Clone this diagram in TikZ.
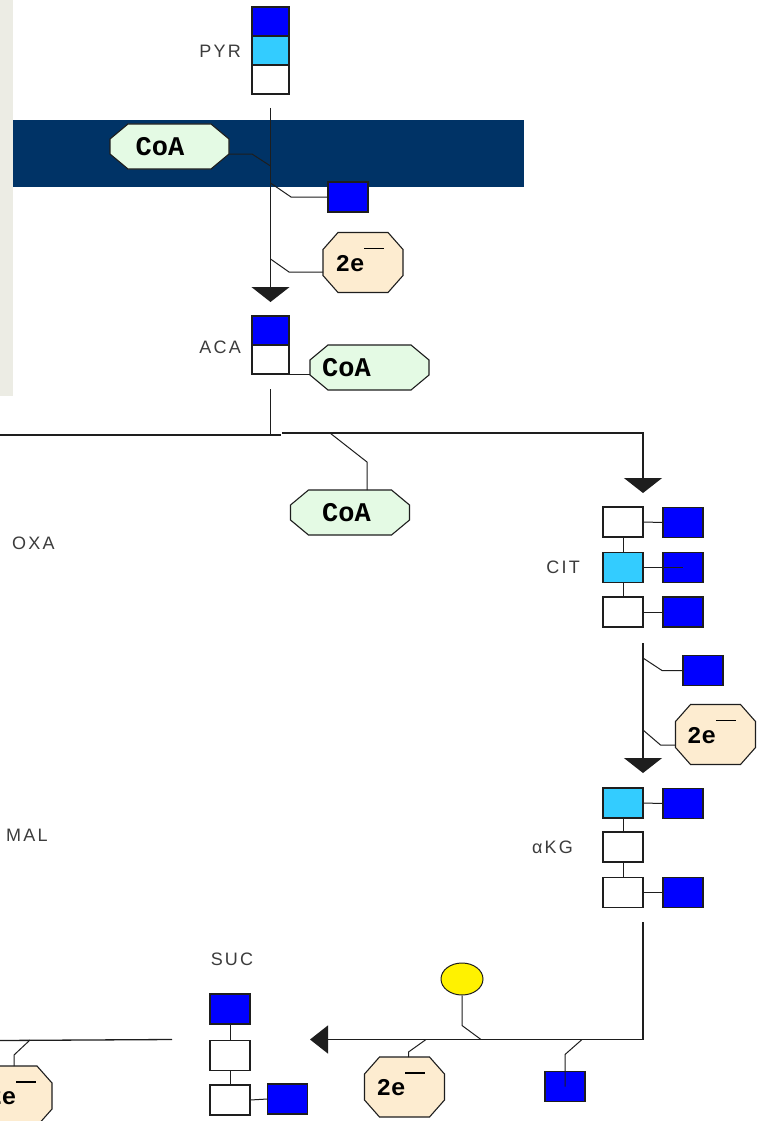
\documentclass[tikz,border=0pt]{standalone}
\usepackage{fontspec}
\usetikzlibrary{arrows.meta,shapes.geometric}
\newfontfamily\labfont[LetterSpace=12]{Liberation Sans}
\newfontfamily\tagfont{Liberation Mono}
\newcommand\coafont{\tagfont\bfseries\fontsize{27}{27}\selectfont}
\definecolor{navy}{RGB}{0,51,102}
\definecolor{panel}{RGB}{236,236,228}
\definecolor{carbon}{RGB}{0,0,255}
\definecolor{carbonlt}{RGB}{51,204,255}
\definecolor{coafill}{RGB}{228,250,228}
\definecolor{elecfill}{RGB}{253,236,208}
\definecolor{ink}{RGB}{30,30,30}
\definecolor{labink}{RGB}{60,60,60}
\tikzset{
  wire/.style={draw=ink, line width=1.3pt},
  tap/.style={draw=ink, line width=1pt},
  cbox/.style={draw=ink, line width=1.2pt, inner sep=0, outer sep=0,
    minimum width=40pt, minimum height=30pt},
  nbox/.style={cbox, minimum width=37pt, minimum height=29pt},
  lab/.style={font=\labfont\fontsize{18}{18}\selectfont, text=labink, inner sep=0},
  octline/.style={draw=ink, line width=1.1pt},
  flowtip/.style={-{Triangle[width=38pt,length=15pt]}}
}
% octagonal tag: name, x, y, half width, half height, fill, text shift, text
\newcommand\octnode[8]{%
  \filldraw[octline, fill=#6, shift={(#2,#3)}]
    (-#4+\octcx,-#5) -- (#4-\octcx,-#5) -- (#4,-#5+\octcy) -- (#4,#5-\octcy)
    -- (#4-\octcx,#5) -- (-#4+\octcx,#5) -- (-#4,#5-\octcy) -- (-#4,-#5+\octcy) -- cycle;
  \node[inner sep=0, outer sep=0, minimum width=2*#4, minimum height=2*#5] (#1) at (#2,#3) {};
  \node[inner sep=0] (#1-t) at ([#7]#1.center) {#8};}
\newcommand\coanode[4]{\def\octcx{18}\def\octcy{15}%
  \octnode{#1}{#2}{#3}{59.5}{22.5}{coafill}{xshift=#4}{\coafont CoA}}
\newcommand\elecnode[4]{\def\octcx{15}\def\octcy{17}%
  \octnode{#1}{#2}{#3}{40}{30}{elecfill}{xshift=#4,yshift=3pt}%
  {\coafont\fontsize{24}{24}\selectfont 2e\raisebox{22pt}{\rule{20pt}{1.6pt}}}}

\begin{document}
\begin{tikzpicture}[x=1pt,y=-1pt]
\clip (0,0) rectangle (765,1121);
\fill[white] (0,0) rectangle (765,1121);
\fill[panel] (0,0) rectangle (13,396);
\fill[navy] (13,120) rectangle (524,187);

% pyruvate and acetyl-CoA
\node[nbox, fill=carbon]   (pyrA) at (270.5,21.5) {};
\node[nbox, fill=carbonlt] (pyrB) at (270.5,50.5) {};
\node[nbox, fill=white]    (pyrC) at (270.5,79.5) {};
\node[lab, anchor=east] (pyrL) at (241,51) {PYR};

\coanode{coaA}{169.5}{146.5}{-9.5pt}
\node[cbox, fill=carbon] (co2A) at (348,197) {};
\elecnode{eA}{363}{262.5}{-3pt}

\node[nbox, fill=carbon] (acaA) at (270.5,330.5) {};
\node[nbox, fill=white]  (acaB) at (270.5,359.5) {};
\node[lab, anchor=east] (acaL) at (241,347) {ACA};
\coanode{coaB}{369.5}{367.5}{-23pt}
\coanode{coaC}{350}{512.5}{-3.5pt}

\coordinate (pyrOut) at (270.5,108);
\coordinate (jCoa) at (270.5,166);
\coordinate (jCO2a) at (270.5,183);
\coordinate (jEa) at (270.5,259);
\draw[wire, flowtip] (pyrOut) -- ([yshift=14pt]acaA.north);
\draw[tap] ([yshift=-7.5pt]coaA.east) -- ++(23,0) -- (jCoa);
\draw[tap] (jCO2a) -- ([xshift=-37pt]co2A.west) -- (co2A.west);
\draw[tap] (jEa) -- ([xshift=-34pt,yshift=-9.5pt]eA.west) -- ([yshift=-9.5pt]eA.west);
\draw[tap] (acaB.south east) -- (acaB.south east -| coaB.west);

% citrate
\node[cbox, fill=white]    (citA) at (623,522) {};
\node[cbox, fill=carbonlt] (citB) at (623,567.5) {};
\node[cbox, fill=white]    (citC) at (623,612) {};
\node[cbox, fill=carbon] (citSA) at (683,522.5) {};
\node[cbox, fill=carbon] (citSB) at (683,567.5) {};
\node[cbox, fill=carbon] (citSC) at (683,612) {};
\node[lab, anchor=east] (citL) at (580,567) {CIT};
\draw[tap] (citA.south) -- (citB.north);
\draw[tap] (citB.south) -- (citC.north);
\draw[tap] (citA.east) -- (citSA.west);
\draw[tap] (citB.east) -- (citSB.center);
\draw[tap] (citC.east) -- (citSC.west);

\coordinate (acaOut) at (270.5,389);
\coordinate (split) at (270.5,435);
\coordinate (toOxa) at (0,435);
\coordinate (splitL) at (281,435);
\coordinate (splitR) at (282,433);
\coordinate (jCoaC) at (330,433);
\draw[wire] (acaOut) -- (split);
\draw[wire] (toOxa) -- (splitL);
\draw[wire, flowtip] (splitR) -| ([yshift=14pt]citA.north east);
\draw[tap] (jCoaC) -- ([xshift=17pt,yshift=28pt]coaC.north) -- ([xshift=17pt]coaC.north);

% alpha-ketoglutarate
\node[cbox, fill=carbon] (co2B) at (703,670.5) {};
\elecnode{eB}{715.5}{734.5}{-4pt}
\node[cbox, fill=carbonlt] (kgA) at (623,803) {};
\node[cbox, fill=white]    (kgB) at (623,847) {};
\node[cbox, fill=white]    (kgC) at (623,892.5) {};
\node[cbox, fill=carbon] (kgSA) at (683,803.5) {};
\node[cbox, fill=carbon] (kgSC) at (683,892.5) {};
\node[lab, anchor=east] (kgL) at (573,847) {αKG};
\draw[tap] (kgA.south) -- (kgB.north);
\draw[tap] (kgB.south) -- (kgC.north);
\draw[tap] (kgA.east) -- (kgSA.west);
\draw[tap] (kgC.east) -- (kgSC.west);

\coordinate (citOut) at (643,643);
\coordinate (jCO2b) at (643,658);
\coordinate (jEb) at (643,730);
\draw[wire, flowtip] (citOut) -- ([yshift=15pt]kgA.north east);
\draw[tap] (jCO2b) -- ([xshift=-21pt]co2B.west) -- (co2B.west);
\draw[tap] (jEb) -- ([xshift=-15pt,yshift=-10.5pt]eB.west) -- ([yshift=-10.5pt]eB.west);

% succinate
\node[cbox, fill=carbon] (sucA) at (230,1009) {};
\node[cbox, fill=white]  (sucB) at (230,1055.5) {};
\node[cbox, fill=white]  (sucC) at (230,1100) {};
\node[cbox, fill=carbon] (sucS) at (287.5,1099) {};
\node[lab] (sucL) at (232,959) {SUC};
\draw[tap] (sucA.south) -- (sucB.north);
\draw[tap] (sucB.south) -- (sucC.north);
\draw[tap] (sucC.east) -- (sucS.west);

\node[draw=ink, line width=1pt, fill=yellow, ellipse, inner sep=0,
  minimum width=42pt, minimum height=32pt] (gtp) at (462,979) {};
\elecnode{eC}{404.5}{1087}{-3.5pt}
\node[cbox, fill=carbon] (co2C) at (565,1086.5) {};

\coordinate (kgOut) at (643,922);
\coordinate (sucIn) at (310,1039.5);
\coordinate (jGtp) at (481,1039.5);
\coordinate (jEc) at (426,1039.5);
\coordinate (jCO2c) at (582,1039.5);
\draw[wire, -{Triangle[width=28pt,length=18pt]}] (kgOut) |- (sucIn);
\draw[tap] (gtp.south) -- ++(0,30) -- (jGtp);
\draw[tap] ([xshift=4pt]eC.north) -- ++(0,-5) -- (jEc);
\draw[tap] (jCO2c) -- ([yshift=32pt]co2C.center) -- (co2C.center);

% toward fumarate
\elecnode{eD}{12}{1096}{0pt}
\coordinate (sucOut) at (172,1039.5);
\coordinate (toFum) at (0,1040.5);
\coordinate (jEd) at (30,1040);
\draw[wire] (sucOut) -- (toFum);
\draw[tap] ([xshift=2pt]eD.north) -- ++(0,-11) -- (jEd);

% left-hand intermediates
\node[lab, anchor=west] (oxaL) at (12,543) {OXA};
\node[lab, anchor=west] (malL) at (6,835) {MAL};
\end{tikzpicture}
\end{document}
